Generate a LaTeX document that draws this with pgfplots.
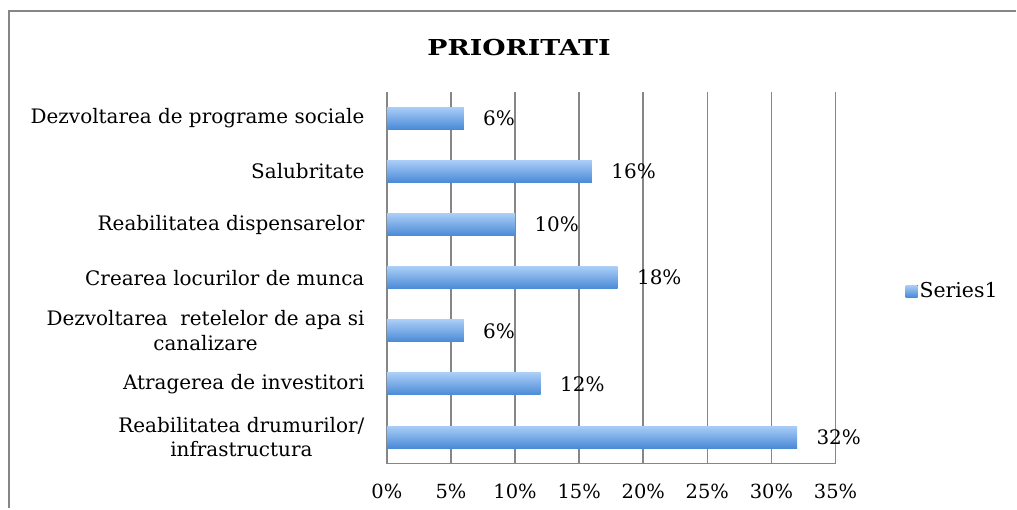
\documentclass[border=0pt]{standalone}
\usepackage{pgfplots}
\pgfplotsset{compat=1.18}
\usepackage{fontspec}
\setmainfont{DejaVu Serif}
\newfontfamily\titlefont{DejaVu Serif}[FakeStretch=1.22]
\definecolor{barTop}{HTML}{A9CDF7}
\definecolor{barBot}{HTML}{4A8AD6}
\definecolor{gridc}{HTML}{868686}
\pgfplotsset{barst/.style={xbar, bar shift=0pt, draw=none, top color=barTop, bottom color=barBot}}
\begin{document}
\begin{tikzpicture}[x=1pt,y=1pt]
\path (0,0) rectangle (1017,508);
\draw[gridc, line width=2pt] (9,-2) -- (9,497) -- (1019,497);
\node[font=\titlefont\fontsize{22}{26}\selectfont\bfseries] at (520.5,460) {PRIORITATI};
\begin{axis}[
  at={(388pt,43pt)}, anchor=south west,
  width=450pt, height=373pt, scale only axis,
  xbar, bar width=22pt,
  xmin=0, xmax=35, ymin=-0.5, ymax=6.5,
  xtick={0,5,...,35},
  xticklabels={0\%,5\%,10\%,15\%,20\%,25\%,30\%,35\%},
  ytick={0,...,6},
  yticklabels={{Reabilitatea drumurilor/\\infrastructura},
    {Atragerea de investitori},
    {Dezvoltarea\ \ retelelor de apa si\\canalizare},
    {Crearea locurilor de munca},
    {Reabilitatea dispensarelor},
    {Salubritate},
    {Dezvoltarea de programe sociale}},
  yticklabel style={align=center, font=\fontsize{20}{25}\selectfont, xshift=-19pt},
  xticklabel style={font=\fontsize{19.5}{22}\selectfont, yshift=-17pt},
  xmajorgrids, grid style={gridc, line width=1.5pt},
  axis lines*=left, axis line style={gridc, line width=1.5pt},
  major tick length=0pt,
  clip=false,
  nodes near coords={\pgfmathprintnumber[assume math mode=true]{\pgfplotspointmeta}\%},
  nodes near coords style={font=\fontsize{20}{22}\selectfont, anchor=west, xshift=16pt},
  legend style={at={(axis description cs:1.149,0.466)}, anchor=west, draw=none, fill=none,
    font=\fontsize{20.5}{22}\selectfont},
  legend image code/.code={\fill[top color=barTop, bottom color=barBot] (0pt,-7pt) rectangle (12pt,5pt);},
]
\addplot[barst] coordinates {(32,0)};
\addlegendentry{Series1}
\addplot[barst, forget plot] coordinates {(12,1)};
\addplot[barst, forget plot] coordinates {(6,2)};
\addplot[barst, forget plot] coordinates {(18,3)};
\addplot[barst, forget plot] coordinates {(10,4)};
\addplot[barst, forget plot] coordinates {(16,5)};
\addplot[barst, forget plot] coordinates {(6,6)};
\end{axis}
\end{tikzpicture}
\end{document}
